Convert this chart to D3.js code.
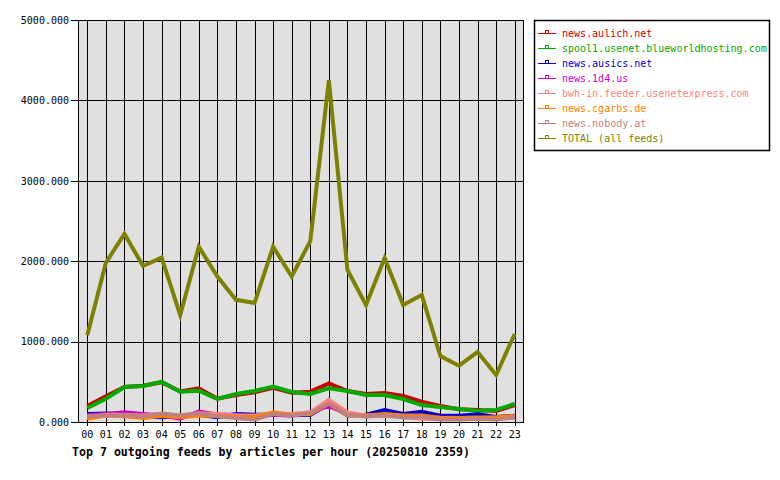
<!DOCTYPE html>
<html><head><meta charset="utf-8">
<script src="https://cdn.jsdelivr.net/npm/d3@7"></script>
<style>body{margin:0;background:#fff}svg{display:block}</style>
</head><body>
<svg id="c" width="780" height="480"></svg>
<script>
const hours = ["00","01","02","03","04","05","06","07","08","09","10","11","12","13","14","15","16","17","18","19","20","21","22","23"];
const yTicks = [0,1000,2000,3000,4000,5000];
const seriesNames = ["news.aulich.net","spool1.usenet.blueworldhosting.com","news.ausics.net","news.1d4.us","bwh-in.feeder.usenetexpress.com","news.cgarbs.de","news.nobody.at","TOTAL (all feeds)"];
const seriesColors = ["#cc0000","#00aa00","#0000cc","#cc00cc","#ff8080","#ff8000","#c08080","#808000"];
const aulich  = [199,320,435,450,495,380,420,290,335,370,425,365,377,481,385,348,360,323,252,199,160,150,137,211];
const spool1  = [174,290,435,448,500,377,390,286,348,385,440,373,348,419,385,336,336,286,211,185,162,140,150,224];
const ausics  = [100,105,95,65,60,70,90,60,100,90,90,85,90,225,80,90,150,100,128,78,78,95,62,78];
const d4      = [85,100,120,100,80,40,130,95,85,70,90,80,120,200,100,80,90,75,70,55,50,50,60,70];
const bwh     = [60,90,90,80,100,80,110,100,80,80,100,100,120,275,120,80,80,60,40,40,40,40,45,55];
const cgarbs  = [40,80,70,50,75,60,80,75,60,60,120,90,100,230,80,80,100,80,80,50,50,55,60,75];
const nobody  = [70,80,85,70,105,80,110,70,50,30,100,80,110,232,90,70,80,60,60,30,30,40,30,55];
const total   = [1080,1980,2340,1940,2045,1330,2180,1810,1520,1480,2180,1810,2250,4250,1890,1455,2040,1455,1580,820,700,870,585,1095];
const seriesValues = [aulich,spool1,ausics,d4,bwh,cgarbs,nobody,total];
const title = "Top 7 outgoing feeds by articles per hour (20250810 2359)";

const svg = d3.select("#c");
const L=78,R=524,T=20,B=422;
const x = d3.scaleBand().domain(hours).range([L,R]).paddingInner(0).paddingOuter(0);
const xc = h => x(h)+x.bandwidth()/2;
const y = d3.scaleLinear().domain([0,5000]).range([B,T]);
const mono = "'DejaVu Sans Mono','Liberation Mono',monospace";

svg.append("rect").attr("x",L).attr("y",T).attr("width",R-L).attr("height",B-T).attr("fill","#e0e0e0");

// grid
const g = svg.append("g").attr("shape-rendering","crispEdges");
g.selectAll("line.h").data(yTicks).join("line")
  .attr("x1",L-7).attr("x2",R).attr("y1",d=>Math.round(y(d))+0.5).attr("y2",d=>Math.round(y(d))+0.5)
  .attr("stroke","#000");
g.selectAll("line.v").data(hours).join("line")
  .attr("x1",d=>Math.round(xc(d))+0.5).attr("x2",d=>Math.round(xc(d))+0.5).attr("y1",T).attr("y2",B+4)
  .attr("stroke","#000");
g.append("rect").attr("x",L+0.5).attr("y",T+0.5).attr("width",R-L-1).attr("height",B-T).attr("fill","none").attr("stroke","#000");

// axes labels via d3 axes
const yAxis = d3.axisLeft(y).tickValues(yTicks).tickFormat(d3.format(".3f")).tickSize(0).tickPadding(9);
const ya = svg.append("g").attr("transform",`translate(${L},0)`).call(yAxis);
ya.select(".domain").remove();
ya.selectAll("text").attr("font-family",mono).attr("font-size","10px").attr("fill","#000");
const xAxis = d3.axisBottom(x).tickSize(0).tickPadding(9);
const xa = svg.append("g").attr("transform",`translate(0,${B})`).call(xAxis);
xa.select(".domain").remove();
xa.selectAll("text").attr("font-family",mono).attr("font-size","10px").attr("fill","#000");

// lines
const line = d3.line().x((d,i)=>xc(hours[i])).y(d=>y(d));
seriesValues.forEach((vals,k)=>{
  svg.append("path").attr("d",line(vals)).attr("fill","none")
    .attr("stroke",seriesColors[k]).attr("stroke-width",4).attr("stroke-linejoin","miter");
});

// title
svg.append("text").attr("x",72).attr("y",456).attr("font-family",mono).attr("font-weight","bold")
  .attr("font-size","11.6px").attr("fill","#000").text(title);

// legend
const lg = svg.append("g");
lg.append("rect").attr("x",534.5).attr("y",20.5).attr("width",235).attr("height",130).attr("fill","#fff").attr("stroke","#000").attr("stroke-width",1.5);
seriesNames.forEach((n,k)=>{
  const yy = 33 + k*15;
  lg.append("line").attr("x1",538).attr("x2",556).attr("y1",yy+0.5).attr("y2",yy+0.5).attr("stroke",seriesColors[k]).attr("shape-rendering","crispEdges");
  lg.append("rect").attr("x",545.5).attr("y",yy-2.5).attr("width",3).attr("height",3).attr("fill","none").attr("stroke",seriesColors[k]).attr("shape-rendering","crispEdges");
  lg.append("text").attr("x",562).attr("y",yy+4).attr("font-family",mono).attr("font-size","10px").attr("fill",seriesColors[k]).text(n);
});
</script>
</body></html>
